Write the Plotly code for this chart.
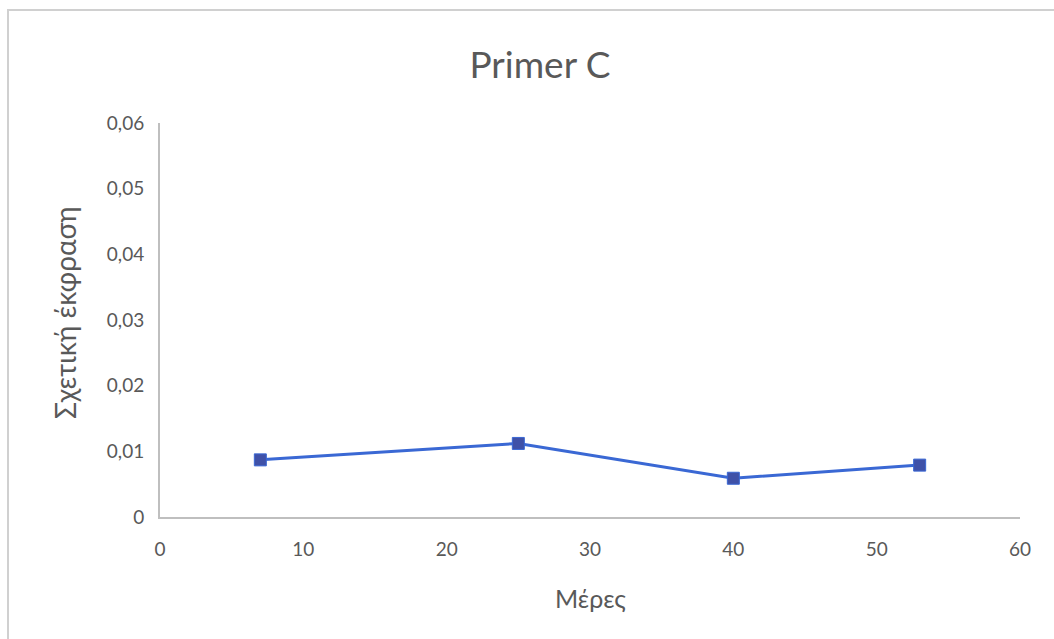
import plotly.graph_objects as go

days = [7, 25, 40, 53]
expression = [0.0087, 0.0112, 0.0059, 0.0079]
errors = [0.0006, 0.0006, 0.0006, 0.0006]
x_ticks = [0, 10, 20, 30, 40, 50, 60]
y_ticks = [0, 0.01, 0.02, 0.03, 0.04, 0.05, 0.06]
y_tick_labels = ["0", "0,01", "0,02", "0,03", "0,04", "0,05", "0,06"]

W, H = 1054, 639
L, R, T, B = 160, 34, 123, 122
PW, PH = W - L - R, H - T - B

fig = go.Figure()
fig.add_trace(go.Scatter(
    x=days, y=expression, mode="lines+markers",
    line=dict(color="#3A68D4", width=3),
    marker=dict(symbol="square", size=12, color="#3F51A8",
                line=dict(color="#3A68D4", width=1)),
    error_y=dict(type="data", array=errors, visible=True,
                 color="#3F51A8", thickness=2, width=5),
    showlegend=False,
))

grey = "#595959"
fig.update_layout(
    width=W, height=H,
    margin=dict(l=L, r=R, t=T, b=B),
    paper_bgcolor="white", plot_bgcolor="white",
    font=dict(family="Lato, Noto Sans, sans-serif", color=grey),
    title=dict(text="Primer C", x=540 / W, xanchor="center",
               y=1 - 65 / H, yanchor="middle",
               font=dict(size=37, color=grey)),
    xaxis=dict(range=[0, 60], tickvals=x_ticks, showgrid=False,
               zeroline=False, showline=True, linecolor="#BFBFBF",
               linewidth=2, ticks="", ticklabelstandoff=14,
               tickfont=dict(size=19, color=grey)),
    yaxis=dict(range=[0, 0.06], tickvals=y_ticks, ticktext=y_tick_labels,
               showgrid=False, zeroline=False, showline=True,
               linecolor="#BFBFBF", linewidth=2, ticks="",
               ticklabelstandoff=10,
               tickfont=dict(size=19, color=grey)),
    annotations=[
        dict(text="Μέρες", xref="paper", yref="paper",
             x=(590 - L) / PW, y=(H - B - 598) / PH,
             xanchor="center", yanchor="middle", showarrow=False,
             font=dict(size=25, color=grey)),
        dict(text="Σχετική έκφραση", xref="paper", yref="paper",
             x=(65 - L) / PW, y=(H - B - 313) / PH, textangle=-90,
             xanchor="center", yanchor="middle", showarrow=False,
             font=dict(size=28, color=grey)),
    ],
)

fig.add_shape(type="rect", xref="paper", yref="paper",
              x0=(8 - L) / PW, x1=(1060 - L) / PW,
              y0=(H - B - 645) / PH, y1=(H - B - 10) / PH,
              line=dict(color="#D0D0D0", width=2), fillcolor="rgba(0,0,0,0)",
              layer="below")

fig.write_html("out.html")
